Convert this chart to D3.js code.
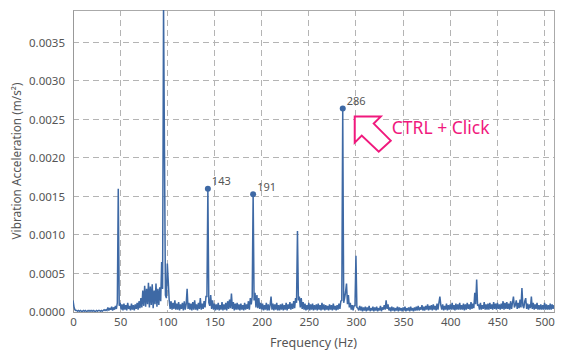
<!DOCTYPE html>
<html><head><meta charset="utf-8">
<script src="https://cdn.jsdelivr.net/npm/d3@7"></script>
<style>html,body{margin:0;padding:0;background:#fff;}svg{display:block;font-family:"Noto Sans",sans-serif;}</style>
</head><body><svg id="c" width="579" height="357"></svg>
<script>
// Frequency bins: start 0 Hz, 1 Hz spacing
const freqStart = 0, freqStep = 1;
// Amplitude per bin, in units of 1e-5 m/s^2
const amplitudeE5 = [
15,7,3,2,2,1,2,1,2,1,
1,2,1,2,1,1,2,1,2,1,
2,1,2,1,1,2,1,2,2,1,
2,1,2,3,2,3,2,6,2,5,
3,7,2,6,3,8,4,12,160,8,
12,3,10,2,11,3,9,2,12,4,
8,2,11,3,9,2,10,4,12,3,
14,5,18,6,28,8,34,7,30,10,
38,6,33,9,36,5,28,10,37,7,
30,9,32,14,65,30,400,210,22,18,
63,40,15,4,14,3,12,4,15,3,
11,3,13,2,10,4,12,2,14,3,
10,30,4,12,3,11,2,13,3,15,
3,10,2,12,4,18,3,11,4,14,
6,20,20,160,12,8,22,4,15,3,
11,2,10,3,12,2,9,3,13,2,
10,3,12,2,14,4,16,5,24,4,
13,2,11,3,12,3,10,2,11,3,
9,2,12,3,10,4,14,3,18,10,
20,153,15,25,6,22,5,18,4,12,
3,11,2,9,3,12,2,10,2,9,
20,3,11,2,10,3,12,2,9,2,
10,3,11,2,9,3,12,2,10,4,
13,3,11,4,14,5,18,12,105,15,
20,6,18,4,13,3,11,2,9,3,
12,2,10,3,11,2,9,3,10,2,
11,3,9,2,12,3,10,2,9,3,
8,2,10,3,9,2,11,3,8,2,
9,3,11,4,14,15,264,12,18,26,
37,10,22,6,12,3,9,2,8,8,
73,6,5,2,8,2,7,1,6,2,
7,1,6,2,8,1,5,2,7,1,
6,2,7,1,5,2,8,1,6,3,
9,3,15,4,10,2,6,1,7,2,
6,1,5,2,7,1,6,2,5,1,
6,2,7,1,5,2,6,1,7,2,
5,1,6,2,7,2,8,2,6,3,
9,2,7,2,8,3,10,2,8,3,
9,2,10,3,8,2,11,3,12,20,
9,3,10,2,8,3,11,2,9,3,
10,3,12,3,9,2,11,3,10,3,
12,3,9,3,11,2,10,3,12,4,
10,3,13,4,11,5,25,10,42,8,
10,3,12,3,9,4,13,3,10,3,
11,3,12,4,10,3,13,4,11,3,
12,4,10,3,11,4,14,3,12,4,
13,4,11,3,14,4,12,20,6,9,
15,4,12,5,16,6,31,8,5,14,
18,4,11,3,10,5,20,4,12,3,
10,4,12,3,9,3,10,3,9,3,
12,3,10,3,9,3,11,3,10,4,
9
];
const markedPeaks = [143, 191, 286];
const xTicks = [0,50,100,150,200,250,300,350,400,450,500];
const yTicks = [0,0.0005,0.001,0.0015,0.002,0.0025,0.003,0.0035];
const xDomain = [0, 510];
const yDomain = [0, 0.00392];
const xTitle = "Frequency (Hz)";
const yTitle = "Vibration Acceleration (m/s²)";
const noteText = "CTRL + Click";

const data = amplitudeE5.map((v,i)=>({f: freqStart + i*freqStep, a: v*1e-5}));

const svg = d3.select("#c");
const m = {l:73, t:10, r:25, b:45};
const W = 579 - m.l - m.r, H = 357 - m.t - m.b;
const x = d3.scaleLinear().domain(xDomain).range([0, W]);
const y = d3.scaleLinear().domain(yDomain).range([H, 0]);
const g = svg.append("g").attr("transform", `translate(${m.l},${m.t})`);

svg.append("defs").append("clipPath").attr("id","clip")
  .append("rect").attr("width", W).attr("height", H);

// grid
const gridColor = "#b4b4b4";
g.append("g").selectAll("line").data(xTicks.filter(d=>d>0)).join("line")
  .attr("x1", d=>x(d)).attr("x2", d=>x(d)).attr("y1",0).attr("y2",H)
  .attr("stroke", gridColor).attr("stroke-dasharray","6,4").attr("shape-rendering","crispEdges");
g.append("g").selectAll("line").data(yTicks.filter(d=>d>0)).join("line")
  .attr("x1",0).attr("x2",W).attr("y1", d=>y(d)).attr("y2", d=>y(d))
  .attr("stroke", gridColor).attr("stroke-dasharray","6,4").attr("shape-rendering","crispEdges");

// frame
g.append("rect").attr("x",0).attr("y",0).attr("width",W).attr("height",H)
  .attr("fill","none").attr("stroke","#aaaaaa").attr("shape-rendering","crispEdges");

// axes
const xAxis = g.append("g").attr("transform",`translate(0,${H})`)
  .call(d3.axisBottom(x).tickValues(xTicks).tickSize(0).tickPadding(6).tickFormat(d3.format("d")));
const yAxis = g.append("g")
  .call(d3.axisLeft(y).tickValues(yTicks).tickSize(0).tickPadding(8).tickFormat(d3.format(".4f")));
[xAxis, yAxis].forEach(a=>{
  a.select(".domain").attr("stroke","#999999");
  a.selectAll("text").attr("fill","#555").style("font-size","11.5px").style("font-family","'Noto Sans',sans-serif");
});

// line
const line = d3.line().x(d=>x(d.f)).y(d=>y(d.a));
g.append("path").datum(data).attr("clip-path","url(#clip)")
  .attr("fill","none").attr("stroke","#3e69a5").attr("stroke-width",1.5)
  .attr("stroke-linejoin","miter").attr("stroke-miterlimit",2).attr("d", line);

// markers
const peaks = data.filter(d=>markedPeaks.includes(d.f));
g.selectAll("circle.pk").data(peaks).join("circle").attr("class","pk")
  .attr("cx", d=>x(d.f)).attr("cy", d=>y(d.a)).attr("r",3).attr("fill","#3e69a5");
g.selectAll("text.pk").data(peaks).join("text").attr("class","pk")
  .attr("x", d=>x(d.f)+4).attr("y", d=>y(d.a)-3.5)
  .attr("fill","#555").style("font-size","11px").text(d=>d.f);

// titles
svg.append("text").attr("x", m.l + W/2).attr("y", 347).attr("text-anchor","middle")
  .attr("fill","#555").style("font-size","12.5px").text(xTitle);
svg.append("text").attr("transform",`translate(21,${m.t + H/2}) rotate(-90)`).attr("text-anchor","middle")
  .attr("fill","#555").style("font-size","11.8px").text(yTitle);

// annotation arrow (anchored near the 286 Hz peak, in pixel offsets)
const ax = x(286) + m.l, ay = y(0.00264) + m.t;
const arrowPts = [[12,8],[38,8],[31,15],[48,32],[36,43],[19,27],[12,34]]
  .map(p=>[ax + p[0], ay + p[1]]);
svg.append("polygon").attr("points", arrowPts.map(p=>p.join(",")).join(" "))
  .attr("fill","#fff").attr("stroke","#f0197d").attr("stroke-width",2).attr("stroke-linejoin","miter");
svg.append("text").attr("x", ax + 49).attr("y", ay + 25)
  .attr("fill","#f0197d").style("font-size","17.5px").text(noteText);
</script></body></html>
